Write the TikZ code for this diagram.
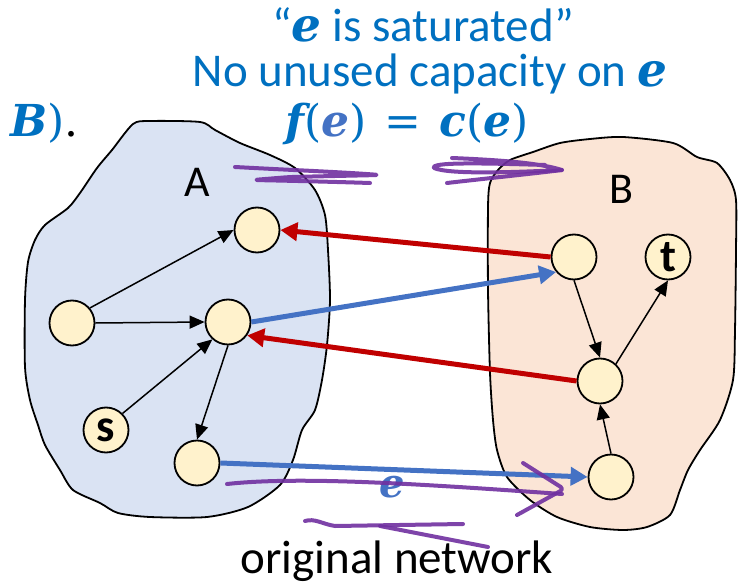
\documentclass[tikz,border=0pt]{standalone}
\usepackage{fontspec}
\setmainfont{Carlito}
\newfontfamily\mathserif{DejaVu Serif}
\usetikzlibrary{arrows.meta}
\definecolor{blobAfill}{HTML}{DAE3F3}
\definecolor{blobBfill}{HTML}{FBE5D6}
\definecolor{nodefill}{HTML}{FFF2CC}
\definecolor{tblue}{HTML}{0070C0}
\definecolor{eblue}{HTML}{4472C4}
\definecolor{ared}{HTML}{C00000}
\definecolor{ink}{HTML}{7030A0}
\newcommand{\mybi}[1]{{\mathserif\bfseries\itshape #1}}
\begin{document}
\begin{tikzpicture}[x=1pt,y=-1pt,
  blob/.style={draw=black, line width=1.8pt, line join=round},
  vert/.style={circle, draw=black, line width=1.8pt, fill=nodefill, minimum size=45pt, inner sep=0pt, font=\fontsize{46}{46}\selectfont\bfseries},
  karrow/.style={line width=1.5pt, -{Triangle[length=15pt,width=13pt]}},
  redarrow/.style={line width=5pt, draw=ared, -{Triangle[length=17pt,width=18pt]}},
  bluearrow/.style={line width=5pt, draw=eblue, -{Triangle[length=17pt,width=18pt]}},
  scribble/.style={draw=ink, line width=4pt, line cap=round, line join=round, opacity=0.9},
  bigtext/.style={font=\fontsize{47}{47}\selectfont, inner sep=0pt},
  setlabel/.style={font=\fontsize{44}{44}\selectfont, inner sep=0pt}]
\useasboundingbox (0,0) rectangle (738,585);

% blobs
\draw[blob, fill=blobAfill] plot[smooth cycle, tension=0.45] coordinates {
 (133,124) (150,121) (200,122) (215,130) (240,143) (270,155) (295,168) (315,190)
 (325,215) (328,250) (330,300) (327,345) (322,380) (315,410) (302,430) (293,460)
 (280,485) (248,507) (207,517) (150,517) (118,513) (100,503) (73,490) (60,470)
 (45,445) (38,425) (30,400) (25,367) (25,300) (28,262) (35,240) (45,225) (68,208)
 (80,193) (97,168) (112,150)};
\draw[blob, fill=blobBfill] plot[smooth cycle, tension=0.45] coordinates {
 (490,183) (498,170) (510,160) (533,152) (560,143) (590,139) (623,137) (673,143)
 (697,157) (717,163) (730,180) (736,200) (736,250) (735,330) (733,380) (720,420)
 (700,450) (688,470) (680,490) (670,515) (647,527) (623,530) (590,527) (557,517)
 (530,500) (507,477) (497,450) (493,420) (490,373) (488,290) (488,207)};

% texts
\node[bigtext, text=tblue, anchor=base] (t1) at (423,42) {“\mybi{e} is saturated”};
\node[bigtext, text=tblue, anchor=base] (t2) at (430,87) {No unused capacity on \mybi{e}};
\node[font=\fontsize{44}{44}\selectfont\mathserif, text=tblue, anchor=base, inner sep=0pt] (formula) at (407,137)
  {\mybi{f}(\textcolor{eblue}{\mybi{e}})\hspace{18pt}=\hspace{18pt}\mybi{c}(\mybi{e})};
\node[font=\fontsize{44}{44}\selectfont\mathserif, text=tblue, anchor=base west, inner sep=0pt] (prev) at (10,137)
  {\mybi{B})\textcolor{black}{.}};
\node[setlabel] (labA) at (197,182) {A};
\node[setlabel] (labB) at (621,189) {B};
\node[bigtext, anchor=base] (orig) at (397,573) {original network};

% vertices
\node[vert] (a1) at (257,230) {};
\node[vert] (l) at (72,323) {};
\node[vert] (m) at (228,322) {};
\node[vert] (s) at (106,430) {s};
\node[vert] (bt) at (197,463) {};
\node[vert] (b1) at (574,257) {};
\node[vert] (t) at (668,257) {t};
\node[vert] (b2) at (600,381) {};
\node[vert] (b3) at (611,477) {};

% black arrows
\draw[karrow] (l.40) -- (a1.west);
\draw[karrow] (l.east) -- (m.west);
\draw[karrow] (s.45) -- (m.228);
\draw[karrow] (m.south) -- (bt.north);
\draw[karrow] (b1.south) -- (b2.north);
\draw[karrow] (b2.47) -- (t.south);
\draw[karrow] (b3.north) -- (b2.south);

% coloured arrows
\draw[redarrow] (b1.west) -- (a1.east);
\draw[bluearrow] (m.east) -- (b1.220);
\draw[redarrow] (b2.west) -- (m.-35);
\draw[bluearrow] (bt.east) -- (b3.west);
\node[font=\fontsize{40}{40}\selectfont\mathserif\bfseries\itshape, text=eblue, inner sep=0pt] (elabel) at (392,487) {e};

% scribbles
\draw[scribble, rounded corners=6pt] (235,167) .. controls (290,170) and (340,172) .. (380,175)
  -- (290,177) -- (253,180) .. controls (300,181) and (340,182) .. (370,183);
\draw[scribble] (452,158) .. controls (500,160) and (540,163) .. (562,170)
  .. controls (520,172) and (450,175) .. (434,168) .. controls (430,162) and (480,163) .. (545,165);
\draw[scribble] (447,183) .. controls (490,178) and (530,174) .. (562,170);
\draw[scribble] (227,484) .. controls (300,476) and (420,484) .. (562,494);
\draw[scribble, rounded corners=4pt] (523,463) -- (564,489) -- (517,515);
\draw[scribble] (305,521) .. controls (315,518) and (322,524) .. (335,526) -- (463,524);
\draw[scribble] (380,526) -- (488,547);
\end{tikzpicture}
\end{document}
